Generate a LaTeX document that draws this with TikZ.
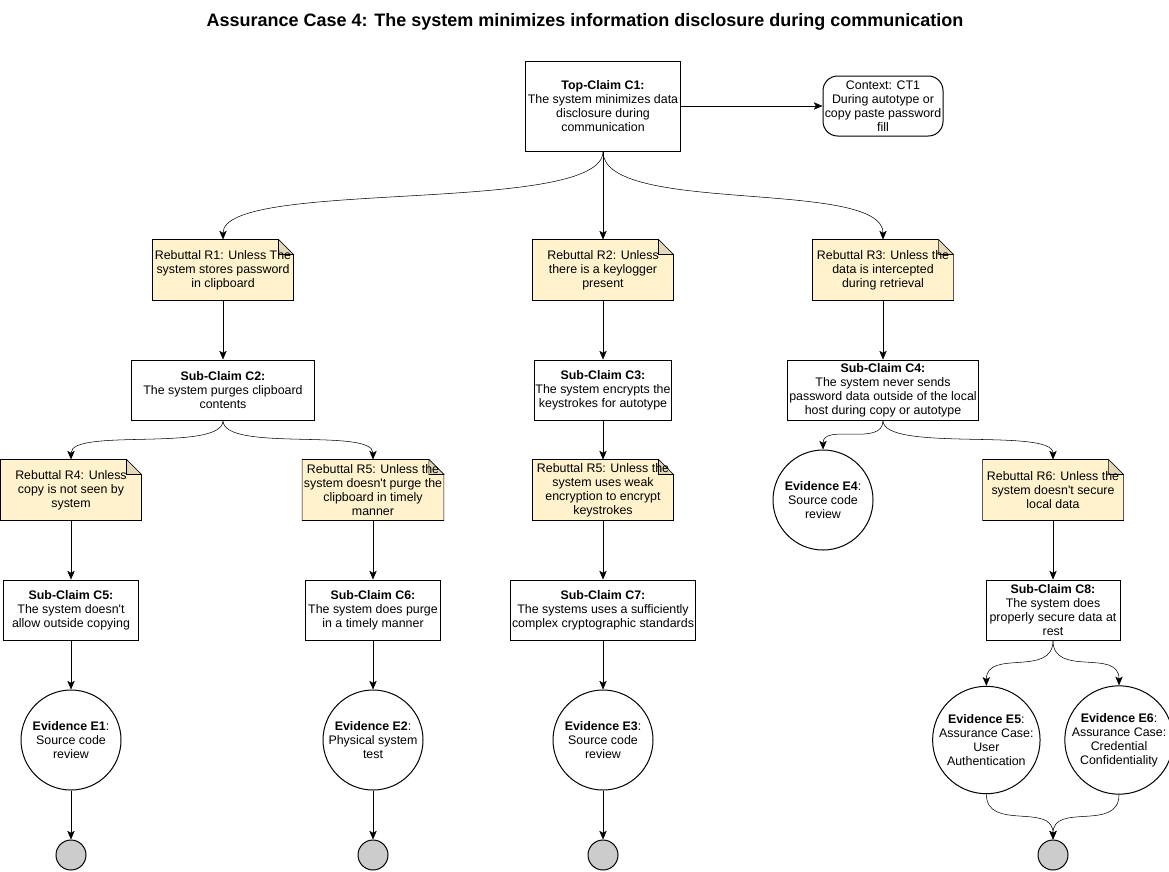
\documentclass[tikz,border=0pt]{standalone}
\usepackage{fontspec}
\setmainfont{Liberation Sans}[Ligatures=TeXOff]
\usetikzlibrary{arrows.meta,positioning,backgrounds}
\definecolor{notefill}{HTML}{FFF2CC}
\definecolor{notefold}{HTML}{E3D8BA}
\definecolor{endfill}{HTML}{CCCCCC}

\begin{document}
\begin{tikzpicture}[>={Stealth[length=6.5pt,width=5.5pt,inset=1.5pt]},line width=0.75pt,on grid,
  font=\fontsize{9.3}{10.6}\selectfont,
  claim/.style={draw,align=center,fill=white,minimum height=45pt,inner sep=1pt},
  rebut/.style={align=center,minimum width=105pt,minimum height=45pt,inner sep=1pt},
  evid/.style={draw,circle,align=center,fill=white,minimum size=75pt,inner sep=0pt},
  term/.style={draw,circle,fill=endfill,minimum size=22.5pt,inner sep=0pt}]
  \useasboundingbox (0,0) rectangle (876.75pt,-653.25pt);

  \node[font=\fontsize{13.5}{15}\selectfont\bfseries] (title) at (438.75pt,-16.5pt)
    {Assurance Case 4: The system minimizes information disclosure during communication};

  \node[claim,minimum width=116.25pt,minimum height=67.5pt] (C1) at (452.25pt,-79.5pt)
    {\textbf{Top-Claim C1:}\\The system minimizes data\\disclosure during\\communication};
  \node[draw,rounded corners=11pt,align=center,minimum width=90pt,minimum height=45pt,
    inner sep=1pt,right=210pt of C1] (CT1)
    {Context: CT1\\During autotype or\\copy paste password\\fill};

  \node[rebut,below=123pt of C1] (R2) {Rebuttal R2: Unless\\there is a keylogger\\present};
  \node[rebut,left=285pt of R2] (R1) {Rebuttal R1: Unless The\\system stores password\\in clipboard};
  \node[rebut,right=210pt of R2] (R3) {Rebuttal R3: Unless the\\data is intercepted\\during retrieval};

  \node[claim,minimum width=137.25pt,below=90pt of R1] (C2)
    {\textbf{Sub-Claim C2:}\\The system purges clipboard\\contents};
  \node[claim,minimum width=101.25pt,below=90pt of R2] (C3)
    {\textbf{Sub-Claim C3:}\\The system encrypts the\\keystrokes for autotype};
  \node[claim,minimum width=143.25pt,below=90pt of R3] (C4)
    {\textbf{Sub-Claim C4:}\\The system never sends\\password data outside of the local\\host during copy or autotype};

  \node[rebut,below left=75pt and 114pt of C2] (R4) {Rebuttal R4: Unless\\copy is not seen by\\system};
  \node[rebut,below right=75pt and 112.5pt of C2] (R5)
    {Rebuttal R5: Unless the\\system doesn't purge the\\clipboard in timely\\manner};
  \node[rebut,below=75pt of C3] (R5b)
    {Rebuttal R5: Unless the\\system uses weak\\encryption to encrypt\\keystrokes};
  \node[evid,below left=82.5pt and 45pt of C4] (E4) {\textbf{Evidence E4}:\\Source code\\review};
  \node[rebut,below right=75pt and 127.5pt of C4] (R6)
    {Rebuttal R6: Unless the\\system doesn't secure\\local data};

  \node[claim,minimum width=101.25pt,below=90pt of R4] (C5)
    {\textbf{Sub-Claim C5:}\\The system doesn't\\allow outside copying};
  \node[claim,minimum width=101.25pt,below=90pt of R5] (C6)
    {\textbf{Sub-Claim C6:}\\The system does purge\\in a timely manner};
  \node[claim,minimum width=138.75pt,below=90pt of R5b] (C7)
    {\textbf{Sub-Claim C7:}\\The systems uses a sufficiently\\complex cryptographic standards};
  \node[claim,minimum width=100.5pt,below=90pt of R6] (C8)
    {\textbf{Sub-Claim C8:}\\The system does\\properly secure data at\\rest};

  \node[evid,below=97.5pt of C5] (E1) {\textbf{Evidence E1}:\\Source code\\review};
  \node[evid,below=97.5pt of C6] (E2) {\textbf{Evidence E2}:\\Physical system\\test};
  \node[evid,below=97.5pt of C7] (E3) {\textbf{Evidence E3}:\\Source code\\review};
  \node[evid,below left=97.5pt and 50pt of C8] (E5)
    {\textbf{Evidence E5}:\\Assurance Case:\\User\\Authentication};
  \node[evid,below right=97.5pt and 49.5pt of C8] (E6)
    {\textbf{Evidence E6}:\\Assurance Case:\\Credential\\Confidentiality};

  \node[term,below=86.25pt of E1] (T1) {};
  \node[term,below=86.25pt of E2] (T2) {};
  \node[term,below=86.25pt of E3] (T3) {};
  \node[term,below=183.75pt of C8] (T4) {};

  \begin{pgfonlayer}{background}
    \foreach \n in {R1,R2,R3,R4,R5,R5b,R6}{
      \filldraw[fill=notefill] (\n.south west) -- (\n.north west) -- ([xshift=-11.25pt]\n.north east)
        -- ([yshift=-11.25pt]\n.north east) -- (\n.south east) -- cycle;
      \filldraw[fill=notefold] ([xshift=-11.25pt]\n.north east) -- ([xshift=-11.25pt,yshift=-11.25pt]\n.north east)
        -- ([yshift=-11.25pt]\n.north east) -- cycle;
    }
  \end{pgfonlayer}

  \draw[->] (C1) -- (CT1);
  \draw[->] (C1.south) .. controls +(0,-48pt) and +(0,46pt) .. (R1.north);
  \draw[->] (C1) -- (R2);
  \draw[->] (C1.south) .. controls +(0,-48pt) and +(0,46pt) .. (R3.north);
  \draw[->] (R1) -- (C2);
  \draw[->] (R2) -- (C3);
  \draw[->] (R3) -- (C4);
  \draw[->] (C2.south) .. controls +(0,-24pt) and +(0,24pt) .. (R4.north);
  \draw[->] (C2.south) .. controls +(0,-24pt) and +(0,24pt) .. (R5.north);
  \draw[->] (C3) -- (R5b);
  \draw[->] (C4.south) .. controls +(0,-20pt) and +(0,20pt) .. (E4.north);
  \draw[->] (C4.south) .. controls +(0,-24pt) and +(0,24pt) .. (R6.north);
  \draw[->] (R4) -- (C5);
  \draw[->] (R5) -- (C6);
  \draw[->] (R5b) -- (C7);
  \draw[->] (R6) -- (C8);
  \draw[->] (C5) -- (E1);
  \draw[->] (C6) -- (E2);
  \draw[->] (C7) -- (E3);
  \draw[->] (C8.south) .. controls +(0,-28pt) and +(0,28pt) .. (E5.north);
  \draw[->] (C8.south) .. controls +(0,-28pt) and +(0,28pt) .. (E6.north);
  \draw[->] (E1) -- (T1);
  \draw[->] (E2) -- (T2);
  \draw[->] (E3) -- (T3);
  \draw[->] (E5.south) .. controls +(0,-28pt) and +(0,28pt) .. (T4.north);
  \draw[->] (E6.south) .. controls +(0,-28pt) and +(0,28pt) .. (T4.north);
\end{tikzpicture}
\end{document}
